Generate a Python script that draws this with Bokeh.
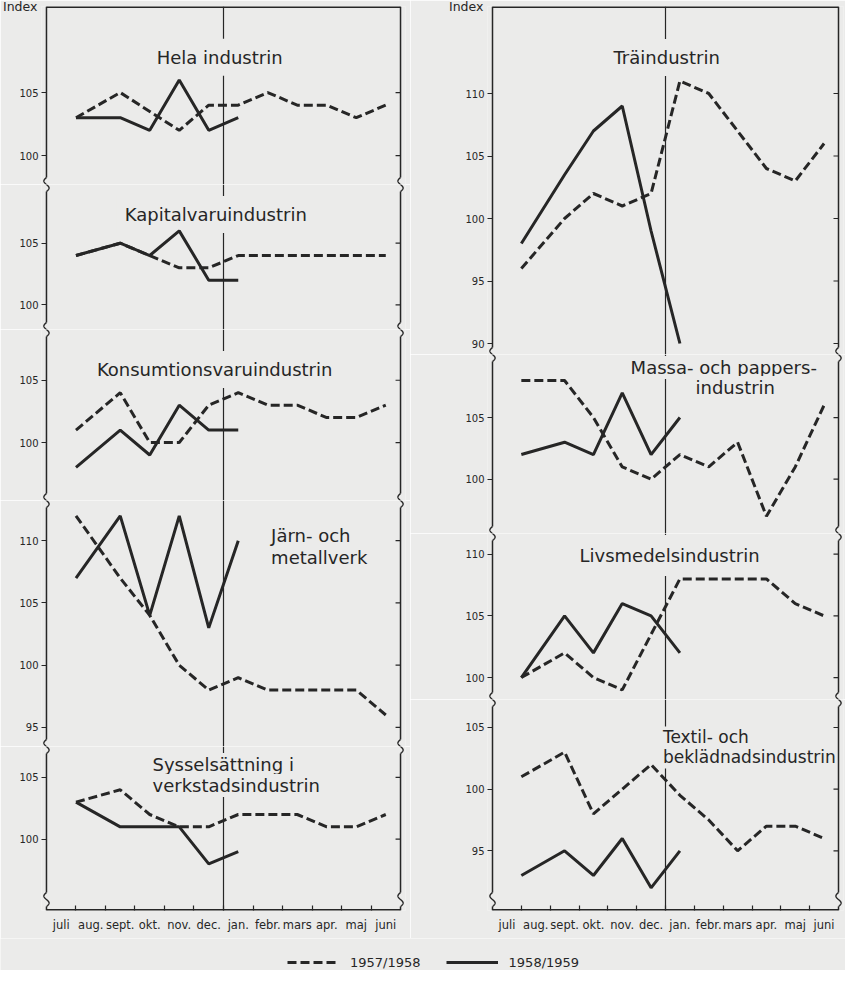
import numpy as np
from bokeh.plotting import figure
from bokeh.models import Range1d, LinearAxis, FixedTicker, Span, Label, Legend, LegendItem
from bokeh.layouts import row, column
from bokeh.embed import file_html
from bokeh.resources import INLINE

# ---------------- data ----------------
months = ["juli", "aug.", "sept.", "okt.", "nov.", "dec.",
          "jan.", "febr.", "mars", "apr.", "maj", "juni"]
# reporting periods (month indices); July and August reported together
periods = [[0, 1], [2], [3], [4], [5], [6], [7], [8], [9], [10], [11]]

hela_5758 = [103, 105, 103.5, 102, 104, 104, 105, 104, 104, 103, 104]
hela_5859 = [103, 103, 102, 106, 102, 103]

kapital_5758 = [104, 105, 104, 103, 103, 104, 104, 104, 104, 104, 104]
kapital_5859 = [104, 105, 104, 106, 102, 102]

konsum_5758 = [101, 104, 100, 100, 103, 104, 103, 103, 102, 102, 103]
konsum_5859 = [98, 101, 99, 103, 101, 101]

jarn_5758 = [112, 107, 104, 100, 98, 99, 98, 98, 98, 98, 96]
jarn_5859 = [107, 112, 104, 112, 103, 110]

syssel_5758 = [103, 104, 102, 101, 101, 102, 102, 102, 101, 101, 102]
syssel_5859 = [103, 101, 101, 101, 98, 99]

tra_5758 = [96, 100, 102, 101, 102, 111, 110, 107, 104, 103, 106]
tra_5859 = [98, 103.5, 107, 109, 99, 90]

massa_5758 = [108, 108, 105, 101, 100, 102, 101, 103, 97, 101, 106]
massa_5859 = [102, 103, 102, 107, 102, 105]

livs_5758 = [100, 102, 100, 99, 103.5, 108, 108, 108, 108, 106, 105]
livs_5859 = [100, 105, 102, 106, 105, 102]

textil_5758 = [101, 103, 98, 100, 102, 99.5, 97.5, 95, 97, 97, 96]
textil_5859 = [93, 95, 93, 96, 92, 95]

legend_labels = ["1957/1958", "1958/1959"]
index_label = "Index"

# ---------------- style ----------------
BG = "#ebebea"
INK = "#262626"
FONT = "DejaVu Sans"
DASH = "9 4"
LW = 3
TICK = 5          # px
SQ_H = 7          # half height of the axis break mark, px
SQ_A = 2.6        # amplitude of the break mark, px


def xpos(n):
    return [sum(2 * m + 1 for m in periods[i]) / len(periods[i]) for i in range(n)]


def make_sub(width, bl, br, fw, fh, yr, ticks, dashed, solid, titles,
             top=False, bottom=False, sq_bot_y=None):
    bt = 6 if top else 0
    bb = 28 if bottom else 0
    pxu_x = (fw - 2 * TICK) / 24.0
    E = TICK / pxu_x
    pxu_y = fh / (yr[1] - yr[0])
    p = figure(width=width, height=fh + bt + bb, x_range=Range1d(-E, 24 + E),
               y_range=Range1d(*yr), output_backend="svg", toolbar_location=None,
               x_axis_location=None, y_axis_location=None,
               min_border_left=bl, min_border_right=br,
               min_border_top=bt, min_border_bottom=bb)
    p.grid.visible = False
    p.outline_line_color = None
    p.background_fill_color = BG
    p.border_fill_color = BG

    la = LinearAxis(ticker=FixedTicker(ticks=ticks, minor_ticks=[]),
                    major_tick_out=0, major_tick_in=TICK, minor_tick_out=0, minor_tick_in=0,
                    major_label_standoff=3, axis_line_color=None,
                    major_tick_line_color=INK, major_tick_line_width=1.2,
                    major_label_text_font=FONT, major_label_text_font_size="10px",
                    major_label_text_color=INK)
    if top:
        la.axis_label = index_label
        la.axis_label_align = "end"
        la.axis_label_orientation = "horizontal"
        la.axis_label_standoff = -21
        la.axis_label_text_font = FONT
        la.axis_label_text_font_style = "normal"
        la.axis_label_text_font_size = "12.5px"
        la.axis_label_text_color = INK
        la.axis_label_text_baseline = "top"
    p.add_layout(la, "left")

    if bottom:
        xa = LinearAxis(ticker=FixedTicker(ticks=[2 * i + 1 for i in range(12)],
                                           minor_ticks=[2 * i for i in range(1, 12)]),
                        major_label_overrides={2 * i + 1: m for i, m in enumerate(months)},
                        major_tick_out=0, major_tick_in=0, minor_tick_out=0, minor_tick_in=5,
                        minor_tick_line_color=INK, minor_tick_line_width=1.2,
                        major_label_standoff=7, axis_line_color=None,
                        major_label_text_font=FONT, major_label_text_font_size="11.5px",
                        major_label_text_color=INK)
        p.add_layout(xa, "below")

    # frame: vertical lines with break marks, inward ticks on the right
    breaks = [yr[1]] if not top else []
    breaks += [yr[0]] if not bottom else []
    if sq_bot_y is not None:
        breaks.append(sq_bot_y)
    dy = SQ_H / pxu_y
    segs = []
    edges = sorted(set(breaks))
    lo = yr[0]
    for b in edges:
        if b - dy > lo:
            segs.append((lo, b - dy))
        lo = b + dy
    if lo < yr[1]:
        segs.append((lo, yr[1]))
    for xl in (0, 24):
        p.segment(x0=[xl] * len(segs), x1=[xl] * len(segs),
                  y0=[s[0] for s in segs], y1=[s[1] for s in segs],
                  line_color=INK, line_width=1.5)
        t = np.linspace(-1, 1, 40)
        for b in edges:
            p.line(xl + SQ_A * np.sin(np.pi * (t + 1)) / pxu_x, b + t * dy,
                   line_color=INK, line_width=1.4)
    p.segment(x0=[24] * len(ticks), x1=[24 - E] * len(ticks), y0=ticks, y1=ticks,
              line_color=INK, line_width=1.2)
    if top:
        p.segment(x0=[0], x1=[24], y0=[yr[1]], y1=[yr[1]], line_color=INK, line_width=3)
    if bottom:
        p.segment(x0=[0], x1=[24], y0=[yr[0]], y1=[yr[0]], line_color=INK, line_width=3)

    # January divider
    p.add_layout(Span(location=12, dimension="height", line_color=INK,
                      line_width=1.2, level="underlay"))
    for (tx, ty, txt, al, pad, fs) in titles:
        p.add_layout(Label(x=tx, y=ty, text=txt, text_align=al, text_baseline="middle",
                           text_font=FONT, text_font_size=fs, text_color=INK,
                           background_fill_color=BG, padding=pad, level="underlay"))

    p.line(xpos(len(dashed)), dashed, line_color=INK, line_width=LW, line_dash=DASH)
    p.line(xpos(len(solid)), solid, line_color=INK, line_width=LW)
    return p


LW_L, BL_L, BR_L, FW_L = 410, 39, 5, 366
LW_R, BL_R, BR_R, FW_R = 435, 77, 2, 356
T = "18px"

left = [
    make_sub(LW_L, BL_L, BR_L, FW_L, 178, (97.70, 111.83), [100, 105], hela_5758, hela_5859,
             [(11.74, 107.8, "Hela industrin", "center", 8, T)], top=True),
    make_sub(LW_L, BL_L, BR_L, FW_L, 145, (98.0, 109.76), [100, 105], kapital_5758, kapital_5859,
             [(11.48, 107.33, "Kapitalvaruindustrin", "center", 8, T)]),
    make_sub(LW_L, BL_L, BR_L, FW_L, 171, (95.35, 109.07), [100, 105], konsum_5758, konsum_5859,
             [(11.4, 105.86, "Konsumtionsvaruindustrin", "center", 8, T)]),
    make_sub(LW_L, BL_L, BR_L, FW_L, 246, (93.47, 113.23), [95, 100, 105, 110], jarn_5758, jarn_5859,
             [(15.16, 110.43, "Järn- och", "left", 1, T), (15.16, 108.66, "metallverk", "left", 1, T)]),
    make_sub(LW_L, BL_L, BR_L, FW_L, 164, (94.22, 107.51), [100, 105], syssel_5758, syssel_5859,
             [(7.12, 106.05, "Sysselsättning i", "left", 1, T),
              (7.12, 104.35, "verkstadsindustrin", "left", 1, T)],
             bottom=True, sq_bot_y=95.11),
]
right = [
    make_sub(LW_R, BL_R, BR_R, FW_R, 348, (89.12, 116.96), [90, 95, 100, 105, 110], tra_5758, tra_5859,
             [(12.08, 112.88, "Träindustrin", "center", 8, T)], top=True),
    make_sub(LW_R, BL_R, BR_R, FW_R, 179, (95.6, 110.11), [100, 105], massa_5758, massa_5859,
             [(16.04, 109.06, "Massa- och pappers-", "center", 1, T),
              (16.84, 107.44, "industrin", "center", 1, T)]),
    make_sub(LW_R, BL_R, BR_R, FW_R, 166, (98.22, 111.68), [100, 105, 110], livs_5758, livs_5859,
             [(12.28, 109.89, "Livsmedelsindustrin", "center", 10, T)]),
    make_sub(LW_R, BL_R, BR_R, FW_R, 211, (90.16, 107.27), [95, 100, 105], textil_5758, textil_5859,
             [(11.75, 104.19, "Textil- och", "left", 1, "17px"),
              (11.75, 102.57, "beklädnadsindustrin", "left", 1, "17px")],
             bottom=True, sq_bot_y=91.05),
]

# legend strip
lf = figure(width=845, height=32, x_range=Range1d(0, 1), y_range=Range1d(0, 1),
            output_backend="svg", toolbar_location=None,
            x_axis_location=None, y_axis_location=None, min_border=0)
lf.grid.visible = False
lf.outline_line_color = None
lf.background_fill_color = BG
lf.border_fill_color = BG
r1 = lf.line(x=[5, 6], y=[5, 5], line_color=INK, line_width=LW, line_dash=DASH)
r2 = lf.line(x=[5, 6], y=[5, 5], line_color=INK, line_width=LW)
leg = Legend(items=[LegendItem(label=legend_labels[0], renderers=[r1]),
                    LegendItem(label=legend_labels[1], renderers=[r2])],
             orientation="horizontal", location=(287, 0), glyph_width=52, glyph_height=16,
             label_standoff=11, spacing=25, padding=0, margin=0,
             border_line_color=None, background_fill_alpha=0,
             label_text_font=FONT, label_text_font_size="13px", label_text_color=INK)
lf.add_layout(leg)

layout = column(row(column(*left), column(*right)), lf)
open("out.html", "w").write(file_html(layout, INLINE))
